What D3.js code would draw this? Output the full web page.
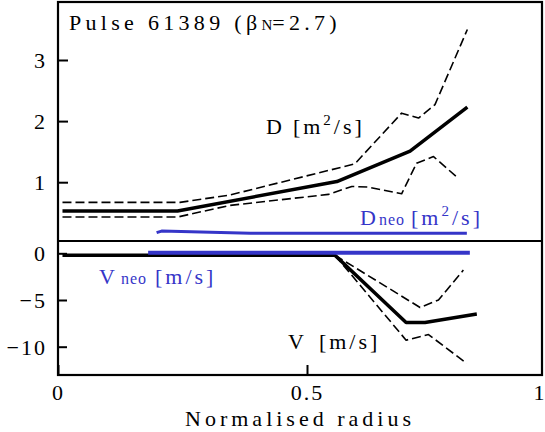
<!DOCTYPE html>
<html>
<head>
<meta charset="UTF-8">
<title>Pulse 61389</title>
<script src="https://d3js.org/d3.v7.min.js"></script>
<style>
  body { margin: 0; background: #fff; }
</style>
</head>
<body>
<div id="chart"></div>
<script>
// radius / value pairs
var dMain  = [[0.009,0.53],[0.24,0.53],[0.56,1.01],[0.707,1.51],[0.822,2.23]];
var dUpper = [[0.009,0.67],[0.245,0.67],[0.345,0.79],[0.596,1.30],[0.69,2.13],[0.724,2.05],[0.757,2.27],[0.822,3.50]];
var dLower = [[0.009,0.43],[0.24,0.43],[0.345,0.62],[0.543,0.80],[0.59,0.93],[0.623,0.92],[0.69,0.81],[0.72,1.31],[0.754,1.42],[0.80,1.09]];
var dNeo   = [[0.198,0.174],[0.208,0.2],[0.386,0.164],[0.821,0.164]];

var vMain  = [[0.009,-0.2],[0.556,-0.2],[0.699,-7.4],[0.737,-7.4],[0.841,-6.5]];
var vUpper = [[0.556,-0.2],[0.727,-5.8],[0.764,-5.0],[0.814,-1.8]];
var vLower = [[0.556,-0.2],[0.699,-9.3],[0.744,-8.7],[0.821,-11.8]];
var vNeo   = [[0.181,0.06],[0.827,0.06]];

var dTicks = [1, 2, 3];
var vTicks = [0, -5, -10];
var xTicks = [0, 0.5];

(function() {
    var W = 545, H = 432;
    var blue = "#3535c8";
    var serif = "Liberation Serif";
    var fL = 58, fR = 542, fT = 2, fB = 375, fS = 241;

    var svg = d3.select("#chart").append("svg").attr("width", W).attr("height", H)
        .attr("font-family", serif);

    var x  = d3.scaleLinear().domain([0, 1]).range([58, 556]);
    var yD = d3.scaleLinear().domain([0, 3]).range([243.3, 60]);
    var yV = d3.scaleLinear().domain([-10, 0]).range([346.7, 253.3]);

    // axes (ticks pointing inward)
    var gD = svg.append("g").attr("transform", "translate(" + fL + ",0)")
        .call(d3.axisLeft(yD).tickValues(dTicks).tickSize(-10).tickPadding(11).tickFormat(d3.format("d")));
    var gV = svg.append("g").attr("transform", "translate(" + fL + ",0)")
        .call(d3.axisLeft(yV).tickValues(vTicks).tickSize(-9).tickPadding(11).tickFormat(d3.format("d")));
    var gX = svg.append("g").attr("transform", "translate(0," + fB + ")")
        .call(d3.axisBottom(x).tickValues(xTicks).tickSize(-10).tickPadding(9)
            .tickFormat(function(d) { return d === 0 ? "0" : "0.5"; }));

    [gD, gV, gX].forEach(function(g) {
        g.attr("font-family", serif).attr("font-size", 22);
        g.select(".domain").remove();
        g.selectAll(".tick line").attr("stroke", "#000").attr("stroke-width", 2);
        g.selectAll(".tick text").attr("fill", "#000").attr("letter-spacing", 2);
    });
    gD.selectAll(".tick text").attr("dy", "0.34em");
    gV.selectAll(".tick text").attr("dy", "0.34em");

    // right-hand "1" sits on the frame edge
    svg.append("text").attr("x", fR - 3).attr("y", 400).attr("text-anchor", "middle")
        .attr("font-size", 22).text("1");

    // frame
    svg.append("rect").attr("x", fL).attr("y", fT).attr("width", fR - fL).attr("height", fB - fT)
        .attr("fill", "none").attr("stroke", "#000").attr("stroke-width", 2.2);
    svg.append("line").attr("x1", fL).attr("x2", fR).attr("y1", fS).attr("y2", fS)
        .attr("stroke", "#000").attr("stroke-width", 2);

    var lineD = d3.line().x(function(d) { return x(d[0]); }).y(function(d) { return yD(d[1]); });
    var lineV = d3.line().x(function(d) { return x(d[0]); }).y(function(d) { return yV(d[1]); });

    function draw(gen, data, color, width, dash) {
        svg.append("path").attr("d", gen(data)).attr("fill", "none")
            .attr("stroke", color).attr("stroke-width", width)
            .attr("stroke-dasharray", dash || null)
            .attr("stroke-linejoin", "round");
    }

    draw(lineD, dNeo, blue, 3);
    draw(lineD, dUpper, "#000", 1.6, "9,4");
    draw(lineD, dLower, "#000", 1.6, "9,4");
    draw(lineD, dMain, "#000", 3.5);

    draw(lineV, vUpper, "#000", 1.6, "9,4");
    draw(lineV, vLower, "#000", 1.6, "9,4");
    draw(lineV, vMain, "#000", 3.5);
    draw(lineV, vNeo, blue, 4);

    // texts
    var title = svg.append("text").attr("x", 69).attr("y", 30).attr("font-size", 22).attr("letter-spacing", 4.3);
    title.append("tspan").text("Pulse 61389 (β");
    title.append("tspan").attr("font-size", 15).attr("letter-spacing", 0).text("N");
    title.append("tspan").text("=2.7)");

    var dl = svg.append("text").attr("x", 266).attr("y", 134).attr("font-size", 22).attr("letter-spacing", 3);
    dl.append("tspan").text("D");
    dl.append("tspan").attr("dx", 8).text("[m");
    dl.append("tspan").attr("dy", -9).attr("font-size", 15).text("2");
    dl.append("tspan").attr("dy", 9).text("/s]");

    var dn = svg.append("text").attr("x", 360).attr("y", 225).attr("fill", blue).attr("font-size", 22).attr("letter-spacing", 3);
    dn.append("tspan").text("D");
    dn.append("tspan").attr("font-size", 16).attr("letter-spacing", 1).text("neo");
    dn.append("tspan").attr("dx", 6).text("[m");
    dn.append("tspan").attr("dy", -9).attr("font-size", 15).text("2");
    dn.append("tspan").attr("dy", 9).text("/s]");

    var vn = svg.append("text").attr("x", 99).attr("y", 284).attr("fill", blue).attr("font-size", 22).attr("letter-spacing", 3);
    vn.append("tspan").text("V");
    vn.append("tspan").attr("dx", 3).attr("font-size", 16).attr("letter-spacing", 1).text("neo");
    vn.append("tspan").attr("dx", 8).text("[m/s]");

    var vl = svg.append("text").attr("x", 288).attr("y", 349).attr("font-size", 22).attr("letter-spacing", 3);
    vl.append("tspan").text("V");
    vl.append("tspan").attr("dx", 12).text("[m/s]");

    svg.append("text").attr("x", 300).attr("y", 426).attr("text-anchor", "middle")
        .attr("font-size", 22).attr("letter-spacing", 4).text("Normalised radius");
})();
</script>
</body>
</html>
